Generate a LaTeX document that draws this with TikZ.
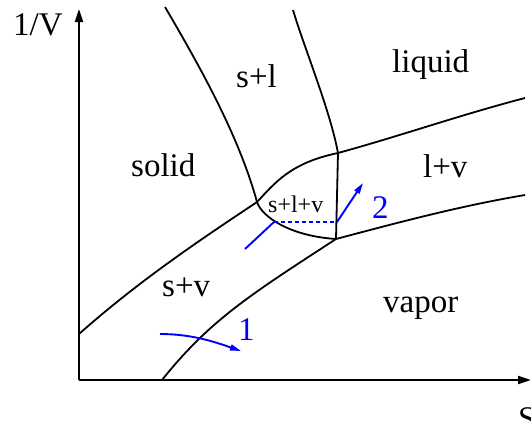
\documentclass[tikz,border=0pt]{standalone}
\usepackage{fontspec}
\setmainfont{Liberation Serif}
\usetikzlibrary{arrows.meta}
\begin{document}
\begin{tikzpicture}[x=1pt,y=-1pt,
  phase/.style={line width=1.8pt, line join=round},
  axisline/.style={line width=2pt, -{Triangle[length=13pt,width=8pt]}},
  path/.style={line width=1.9pt, draw={rgb,255:red,0;green,0;blue,255}},
  pathtip/.style={-{Triangle[length=11pt,width=6pt]}},
  lbl/.style={anchor=base west, inner sep=0pt, font=\fontsize{33}{33}\selectfont},
  smalllbl/.style={anchor=base west, inner sep=0pt, font=\fontsize{24}{24}\selectfont},
  bluelbl/.style={lbl, text={rgb,255:red,0;green,0;blue,255}}]
\useasboundingbox (0,0) rectangle (531,423);
% key points
\coordinate (O) at (79,380);
\coordinate (Ytip) at (79,9);
\coordinate (Xtip) at (531,380);
\coordinate (tpl) at (257,202);  % left triple point
\coordinate (tpu) at (338,153);  % upper triple point
\coordinate (tpd) at (336,239);  % lower triple point
% axes
\draw[axisline] (O) -- (Ytip);
\draw[axisline] (O) -- (Xtip);
% phase boundaries
\draw[phase] (165,7) .. controls (205,75) and (240,140) .. (tpl)
             .. controls (262,217) and (290,236) .. (tpd);
\draw[phase] (293,10) .. controls (305,50) and (330,110) .. (tpu) -- (tpd);
\draw[phase] (79,334) .. controls (140,280) and (200,240) .. (tpl);
\draw[phase] (tpl) .. controls (275,183) and (290,163) .. (tpu);
\draw[phase] (tpu) .. controls (400,136) and (460,115) .. (525,98);
\draw[phase] (162,380) .. controls (210,320) and (250,295) .. (tpd);
\draw[phase] (tpd) .. controls (400,222) and (460,206) .. (525,195);
% paths
\coordinate (p1s) at (160,334);
\coordinate (p1e) at (241,351);
\draw[path, pathtip] (p1s) .. controls (192,334) and (215,342) .. (p1e);
\coordinate (p2s) at (245,249);
\coordinate (p2a) at (274,222);
\coordinate (p2b) at (337,222);
\coordinate (p2e) at (363,183);
\draw[path] (p2s) -- (p2a);
\draw[path, dash pattern=on 4pt off 3pt] (p2a) -- (p2b);
\draw[path, pathtip] (p2b) -- (p2e);
% labels
\node[lbl] (lv) at (13,35) {1/V};
\node[lbl] (ls) at (518,429) {S};
\node[lbl] (lsolid) at (131,176) {solid};
\node[lbl] (lliquid) at (392,72) {liquid};
\node[lbl] (lvapor) at (383,312) {vapor};
\node[lbl] (lsv) at (162,296) {s+v};
\node[lbl] (lsl) at (236,87) {s+l};
\node[lbl] (llv) at (423,177) {l+v};
\node[smalllbl] (lslv) at (268,212) {s+l+v};
\node[bluelbl] (l1) at (238,340) {1};
\node[bluelbl] (l2) at (372,218) {2};
\end{tikzpicture}
\end{document}
